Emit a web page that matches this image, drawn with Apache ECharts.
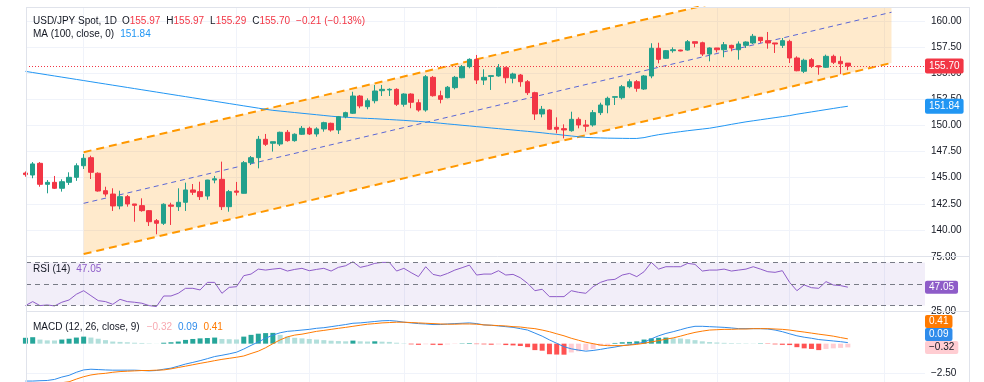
<!DOCTYPE html>
<html>
<head>
<meta charset="utf-8">
<script src="https://cdn.jsdelivr.net/npm/echarts@6.0.0/dist/echarts.min.js"></script>
<style>
html,body{margin:0;padding:0;background:#ffffff;}
#chart{width:984px;height:382px;}
</style>
</head>
<body>
<div id="chart"></div>
<script>
// ---------------- DATA ----------------
const opens = [145.45,145.26,146.38,144.37,144.56,143.99,144.56,145.04,146.15,146.92,
145.43,143.76,143.44,142.30,143.19,142.49,142.33,141.85,140.89,140.64,
142.39,142.23,142.65,143.83,143.67,143.25,144.78,144.85,142.23,143.73,
143.51,146.44,146.92,148.68,148.30,148.23,149.35,148.55,149.16,149.73,
149.19,149.67,150.21,149.57,150.84,151.17,152.82,151.80,152.37,153.33,
153.40,153.46,152.03,153.01,152.18,151.48,154.61,152.85,152.66,153.62,
154.57,155.63,156.33,154.35,154.70,154.74,155.53,154.52,154.83,154.19,
153.14,151.10,151.48,149.83,149.70,149.50,150.59,150.05,150.05,151.23,
151.96,152.70,152.66,153.71,154.19,153.49,154.74,157.39,156.43,157.16,
157.22,157.22,158.02,157.92,156.84,157.42,157.25,157.67,157.25,157.67,
157.90,158.44,158.12,157.90,157.67,158.05,156.46,155.19,156.30,155.72,
155.57,156.62,156.14,155.97];
const highs = [145.60,146.50,146.50,144.78,145.17,144.85,145.52,146.38,147.27,147.11,
145.52,144.14,143.99,143.76,143.35,142.49,143.03,141.91,141.05,142.55,
142.61,143.99,144.53,144.40,144.62,144.80,145.17,146.54,143.83,144.60,
146.60,147.08,149.00,149.19,148.45,149.41,149.57,149.25,149.95,149.89,
149.83,150.36,150.27,150.91,151.32,153.23,152.92,152.60,153.88,153.88,
153.56,153.56,153.08,153.08,152.50,154.83,154.74,153.33,153.78,154.74,
155.79,156.43,156.75,155.38,154.77,155.88,155.63,155.05,154.93,154.35,
153.23,151.87,151.55,150.78,150.11,151.32,150.78,150.53,151.48,152.18,
152.76,152.76,153.88,154.42,154.35,154.83,157.87,157.92,157.22,157.48,
157.25,158.18,158.02,158.02,157.48,157.42,157.99,157.73,158.05,158.05,
158.76,158.44,158.95,157.90,158.37,158.21,156.62,156.39,156.46,155.72,
156.78,156.78,156.62,155.97];
const lows = [145.10,144.95,144.14,143.51,143.92,143.67,144.31,144.70,145.84,144.88,
143.67,143.19,141.82,141.98,142.23,140.79,141.75,140.38,139.59,140.48,
140.48,141.82,141.82,143.35,142.87,142.90,144.47,141.91,141.75,143.30,
143.50,146.22,145.90,148.04,147.50,148.04,148.45,148.45,149.09,149.09,
148.93,149.41,149.41,149.19,150.69,151.10,151.65,151.55,152.12,152.82,
152.82,151.87,151.80,151.65,151.32,151.32,152.76,152.12,152.60,153.46,
154.52,155.47,153.97,153.88,153.40,154.67,154.04,154.04,153.71,152.92,
150.53,150.78,149.57,149.25,148.77,149.41,149.73,149.41,149.89,151.00,
151.17,151.96,152.50,153.56,153.23,153.40,154.52,155.95,156.36,156.97,
157.10,157.16,157.48,156.65,156.14,157.00,156.53,157.10,156.30,157.42,
157.80,157.90,157.35,156.94,157.42,155.98,155.19,155.02,155.50,154.86,
155.50,155.88,154.93,155.29];
const closes = [145.30,146.32,144.37,144.56,143.99,144.62,145.04,146.15,146.86,145.52,
143.73,143.44,142.30,143.19,142.49,142.36,141.85,140.79,140.64,142.46,
142.27,142.65,143.83,143.61,143.19,144.78,144.90,142.23,143.67,143.61,
146.44,146.92,148.68,148.20,148.45,149.35,148.55,149.16,149.73,149.19,
149.67,150.27,149.57,150.84,151.23,152.82,151.87,152.37,153.30,153.46,
153.46,152.03,153.01,152.22,151.48,154.67,152.85,152.50,153.66,154.61,
155.63,156.33,154.35,154.61,154.77,155.53,154.57,154.93,154.19,153.14,
151.10,151.55,149.64,149.64,149.57,150.59,150.05,149.93,151.23,151.96,
152.60,152.76,153.71,154.19,153.56,154.74,157.39,156.33,157.16,157.25,
157.13,158.02,157.87,156.84,157.42,157.25,157.73,157.42,157.80,157.99,
158.54,158.12,157.90,157.80,158.12,156.46,155.24,156.24,155.66,155.60,
156.62,156.05,155.91,155.70];
const ma100 = [155.18,155.07,154.96,154.85,154.74,154.63,154.52,154.41,154.30,154.19,
154.08,153.97,153.86,153.75,153.64,153.53,153.42,153.31,153.20,153.09,
152.98,152.87,152.76,152.65,152.54,152.43,152.32,152.21,152.10,151.99,
151.88,151.77,151.66,151.55,151.45,151.38,151.31,151.24,151.17,151.10,
151.03,150.96,150.89,150.83,150.79,150.75,150.71,150.68,150.65,150.61,
150.57,150.53,150.49,150.44,150.39,150.34,150.28,150.22,150.15,150.09,
150.02,149.96,149.89,149.83,149.76,149.70,149.63,149.57,149.50,149.44,
149.37,149.30,149.22,149.15,149.07,149.00,148.92,148.86,148.83,148.81,
148.79,148.78,148.77,148.76,148.76,148.84,148.99,149.12,149.22,149.32,
149.41,149.50,149.58,149.66,149.74,149.86,149.98,150.11,150.23,150.35,
150.45,150.55,150.65,150.75,150.85,150.95,151.08,151.19,151.30,151.41,
151.52,151.63,151.74,151.84];
const rsi14 = [30.0,33.7,30.0,30.6,29.7,33.1,35.2,40.5,43.8,39.2,
34.6,33.7,31.2,35.8,33.7,33.1,32.2,30.0,29.1,38.9,
38.9,41.4,46.0,46.0,44.5,51.5,51.5,41.4,46.9,47.5,
57.7,59.2,63.8,62.9,63.8,64.5,62.0,63.5,64.5,62.3,
63.5,64.5,62.0,65.4,66.9,70.6,65.4,66.9,69.1,70.0,
70.0,62.0,64.5,60.5,56.8,66.0,58.9,57.4,59.8,62.9,
65.1,67.5,58.3,59.2,59.2,62.3,58.3,58.9,55.8,50.6,
43.8,45.1,38.3,38.3,38.3,43.8,42.3,41.4,47.5,51.5,
53.7,54.3,58.3,59.8,56.8,61.4,70.0,63.8,66.0,66.0,
66.0,69.1,68.2,62.0,62.9,62.9,63.8,62.0,62.9,63.8,
66.0,63.8,61.4,60.8,62.3,51.5,43.8,49.1,46.6,46.0,
52.2,49.1,48.5,47.05];
const macdLine = [-3.19,-3.19,-3.16,-3.14,-3.05,-2.85,-2.70,-2.44,-2.24,-2.18,
-2.21,-2.24,-2.26,-2.26,-2.26,-2.26,-2.29,-2.32,-2.29,-2.18,
-2.09,-1.92,-1.74,-1.60,-1.45,-1.28,-1.10,-0.99,-0.87,-0.73,
-0.46,-0.15,0.15,0.46,0.73,0.93,1.05,1.10,1.16,1.22,
1.31,1.36,1.45,1.54,1.63,1.74,1.77,1.83,1.89,1.95,
1.97,1.92,1.83,1.77,1.71,1.68,1.63,1.63,1.68,1.71,
1.74,1.77,1.71,1.60,1.57,1.51,1.45,1.39,1.28,1.16,
0.90,0.64,0.32,0.03,-0.26,-0.44,-0.55,-0.64,-0.58,-0.49,
-0.38,-0.29,-0.17,-0.09,0.00,0.12,0.41,0.67,0.87,1.02,
1.19,1.36,1.48,1.48,1.45,1.42,1.39,1.34,1.28,1.28,
1.28,1.28,1.25,1.16,1.02,0.84,0.67,0.55,0.46,0.35,
0.29,0.23,0.17,0.09];
const signalLine = [-3.90,-3.74,-3.60,-3.50,-3.40,-3.33,-3.25,-3.02,-2.82,-2.67,
-2.58,-2.53,-2.44,-2.38,-2.35,-2.32,-2.29,-2.29,-2.26,-2.24,
-2.15,-2.03,-1.92,-1.80,-1.68,-1.57,-1.45,-1.34,-1.25,-1.16,
-1.05,-0.84,-0.64,-0.35,0.00,0.32,0.58,0.73,0.81,0.93,
1.05,1.13,1.22,1.31,1.39,1.48,1.57,1.66,1.71,1.77,
1.80,1.83,1.83,1.80,1.77,1.74,1.71,1.68,1.66,1.66,
1.68,1.68,1.66,1.60,1.57,1.54,1.51,1.45,1.42,1.34,
1.28,1.16,1.02,0.84,0.67,0.46,0.29,0.12,0.00,-0.12,
-0.17,-0.17,-0.17,-0.12,-0.06,0.03,0.15,0.26,0.38,0.49,
0.64,0.81,0.96,1.07,1.16,1.19,1.22,1.22,1.25,1.25,
1.28,1.28,1.28,1.25,1.22,1.16,1.07,0.99,0.90,0.81,
0.73,0.64,0.52,0.41];
const macdHist = [0.50,0.55,0.35,0.28,0.27,0.35,0.42,0.52,0.60,0.52,
0.42,0.30,0.18,0.15,0.12,0.08,0.06,0.03,0.01,0.08,
0.12,0.18,0.32,0.40,0.45,0.48,0.52,0.40,0.38,0.36,
0.60,0.75,0.85,0.90,0.92,0.75,0.60,0.50,0.45,0.40,
0.35,0.30,0.25,0.22,0.20,0.26,0.20,0.18,0.20,0.17,
0.15,0.08,0.03,-0.06,-0.10,-0.05,-0.10,-0.12,-0.06,-0.03,
0.03,0.05,-0.04,-0.06,-0.09,-0.06,-0.12,-0.15,-0.20,-0.30,
-0.55,-0.60,-0.90,-0.93,-0.94,-0.75,-0.65,-0.55,-0.45,-0.20,
-0.12,0.06,0.12,0.15,0.20,0.35,0.45,0.50,0.52,0.46,
0.44,0.38,0.30,0.20,0.14,0.10,0.07,0.05,0.04,0.03,
0.02,0.03,-0.03,-0.06,-0.10,-0.12,-0.30,-0.40,-0.45,-0.55,
-0.45,-0.40,-0.36,-0.32];
// channel drawing (bar index where it starts / ends, and prices)
const channelIdx = [8, 119];
const channelUpper = [147.44, 165.73];
const channelMid = [142.55, 160.84];
const channelLower = [137.70, 155.99];
// axis ticks
const priceTicks = [140, 142.5, 145, 147.5, 150, 152.5, 155, 157.5, 160];
const rsiTicks = [25, 75];
const rsiLevels = [70, 50, 30];
const macdTicks = [-2.5];
const timeGridIdx = [8, 29, 39, 52, 62, 73, 95, 105, 118];

// ---------------- STYLE ----------------
const FONT = '"Liberation Sans", Arial, sans-serif';
const UP = '#22A08C', DOWN = '#F23645';
const MA_C = '#2196F3', RSI_C = '#8E5CC8', MACD_C = '#2F8CEB', SIG_C = '#FF7A00';
const GRID_C = '#f0f3fa';
const X_MIN = 0.08, X_MAX = 123.6;
const fmt = v => (v < 0 ? '\u2212' : '') + Math.abs(v).toFixed(2);

const n = closes.length, last = n - 1;
const candleData = closes.map((c, i) => [i, opens[i], c, lows[i], highs[i]]);
const pairs = arr => arr.map((v, i) => [i, v]);
const chPairs = arr => channelIdx.map((x, i) => [x, arr[i]]);

const grids = [
  {left: 26, right: 59, top: 7, height: 249},
  {left: 26, right: 59, top: 257, height: 54},
  {left: 26, right: 59, top: 312, height: 70}
];
const xAxes = [0, 1, 2].map(g => ({
  type: 'value', gridIndex: g, min: X_MIN, max: X_MAX,
  axisLine: {show: false}, axisLabel: {show: false},
  axisTick: {show: false, customValues: timeGridIdx},
  splitLine: {show: true, lineStyle: {color: GRID_C, width: 1}}
}));
const yCommon = {
  type: 'value', position: 'right', axisLine: {show: false},
  axisLabel: {color: '#131722', fontSize: 10, fontFamily: FONT, margin: 6, formatter: fmt}
};
const yAxes = [
  Object.assign({}, yCommon, {gridIndex: 0, min: 137.51, max: 161.34,
    axisTick: {show: false, customValues: priceTicks},
    axisLabel: Object.assign({}, yCommon.axisLabel, {customValues: priceTicks}),
    splitLine: {show: true, lineStyle: {color: GRID_C}}}),
  Object.assign({}, yCommon, {gridIndex: 1, min: 25, max: 75,
    axisTick: {show: false, customValues: rsiTicks},
    axisLabel: Object.assign({}, yCommon.axisLabel, {customValues: rsiTicks}),
    splitLine: {show: false}}),
  Object.assign({}, yCommon, {gridIndex: 2, min: -3.27, max: 2.70,
    axisTick: {show: false, customValues: macdTicks},
    axisLabel: Object.assign({}, yCommon.axisLabel, {customValues: macdTicks}),
    splitLine: {show: true, lineStyle: {color: GRID_C}}})
];

function lineSeries(data, color, width, type, ax, z) {
  return {type: 'line', xAxisIndex: ax, yAxisIndex: ax, data: data, showSymbol: false, symbol: 'none',
    lineStyle: {color: color, width: width, type: type}, silent: true, z: z, clip: true};
}

const histColor = p => {
  const i = p.dataIndex, h = macdHist[i], prev = i > 0 ? macdHist[i - 1] : null;
  if (h >= 0) return (prev === null || h > prev) ? '#26A69A' : '#B2DFDB';
  return (prev === null || h < prev) ? '#FF5252' : '#FFCDD2';
};

const series = [
  {type: 'custom', xAxisIndex: 0, yAxisIndex: 0, clip: true, z: 1, silent: true,
    data: [[channelIdx[0], channelLower[0]]],
    renderItem: (params, api) => ({
      type: 'polygon',
      shape: {points: [
        api.coord([channelIdx[0], channelUpper[0]]),
        api.coord([channelIdx[1], channelUpper[1]]),
        api.coord([channelIdx[1], channelLower[1]]),
        api.coord([channelIdx[0], channelLower[0]])]},
      style: {fill: 'rgba(255,152,0,0.2)'}
    })},
  lineSeries(chPairs(channelUpper), '#FF9800', 2, [8, 5], 0, 2),
  lineSeries(chPairs(channelLower), '#FF9800', 2, [8, 5], 0, 2),
  lineSeries(chPairs(channelMid), '#5B67D6', 1, [5, 4], 0, 2),
  lineSeries(pairs(ma100), MA_C, 1, 'solid', 0, 3),
  {type: 'candlestick', xAxisIndex: 0, yAxisIndex: 0, data: candleData, barWidth: 5, z: 5, silent: true,
    itemStyle: {color: UP, color0: DOWN, borderColor: UP, borderColor0: DOWN, borderWidth: 1},
    markLine: {silent: true, symbol: ['none', 'none'], animation: false,
      data: [{yAxis: closes[last]}],
      lineStyle: {color: DOWN, width: 1, type: [1, 2]}, label: {show: false}}},
  Object.assign(lineSeries(pairs(rsi14), RSI_C, 1, 'solid', 1, 3), {
    markArea: {silent: true, itemStyle: {color: 'rgba(126,87,194,0.1)'},
      data: [[{yAxis: rsiLevels[2]}, {yAxis: rsiLevels[0]}]]},
    markLine: {silent: true, symbol: ['none', 'none'], animation: false,
      lineStyle: {color: '#787B86', width: 1, type: [5, 4]}, label: {show: false},
      data: rsiLevels.map(v => ({yAxis: v}))}
  }),
  {type: 'bar', xAxisIndex: 2, yAxisIndex: 2, data: pairs(macdHist), barWidth: 5, silent: true, z: 2,
    itemStyle: {color: histColor}},
  lineSeries(pairs(macdLine), MACD_C, 1, 'solid', 2, 3),
  lineSeries(pairs(signalLine), SIG_C, 1, 'solid', 2, 3)
];

const F10 = '10px ' + FONT;
// legend row built as rich text: [text, colour, left gap]
function legend(x, y, parts) {
  const rich = {};
  let text = '';
  parts.forEach((p, i) => {
    rich['p' + i] = {fill: p[1], font: F10, padding: [0, 0, 0, p[2] || 0]};
    text += '{p' + i + '|' + p[0] + '}';
  });
  return {type: 'text', x: x, y: y, silent: true, z: 20,
    style: {text: text, rich: rich, font: F10, verticalAlign: 'middle'}};
}

const chg = closes[last] - closes[last - 1];
const chgPct = chg / closes[last - 1] * 100;
const DARK = '#131722';

const baseGraphics = [
  {type: 'line', silent: true, z: 10, shape: {x1: 26, y1: 7.5, x2: 969, y2: 7.5}, style: {stroke: '#e0e3eb', lineWidth: 1}},
  {type: 'line', silent: true, z: 10, shape: {x1: 26.5, y1: 7, x2: 26.5, y2: 382}, style: {stroke: '#e0e3eb', lineWidth: 1}},
  {type: 'line', silent: true, z: 10, shape: {x1: 969.5, y1: 7, x2: 969.5, y2: 382}, style: {stroke: '#e0e3eb', lineWidth: 1}},
  {type: 'line', silent: true, z: 10, shape: {x1: 26, y1: 256.5, x2: 969, y2: 256.5}, style: {stroke: '#e0e3eb', lineWidth: 1}},
  {type: 'line', silent: true, z: 10, shape: {x1: 26, y1: 311.5, x2: 969, y2: 311.5}, style: {stroke: '#e0e3eb', lineWidth: 1}},
  legend(33, 21, [
    ['USD/JPY Spot, 1D', DARK],
    ['O', DARK, 5], [opens[last].toFixed(2), DOWN],
    ['H', DARK, 6], [highs[last].toFixed(2), DOWN],
    ['L', DARK, 6], [lows[last].toFixed(2), DOWN],
    ['C', DARK, 6], [closes[last].toFixed(2), DOWN],
    [fmt(chg) + ' (' + fmt(chgPct) + '%)', DOWN, 6]
  ]),
  legend(33, 34.5, [['MA (100, close, 0)', DARK], [ma100[last].toFixed(2), MA_C, 6]]),
  legend(33, 269, [['RSI (14)', DARK], [rsi14[last].toFixed(2), RSI_C, 6]]),
  legend(33, 327, [['MACD (12, 26, close, 9)', DARK],
    [fmt(macdHist[last]), '#F7A9B1', 7], [fmt(macdLine[last]), MACD_C, 6], [fmt(signalLine[last]), SIG_C, 6]])
];

const chart = echarts.init(document.getElementById('chart'), null, {renderer: 'canvas'});
chart.setOption({
  animation: false, backgroundColor: '#ffffff',
  textStyle: {fontFamily: FONT},
  grid: grids, xAxis: xAxes, yAxis: yAxes, series: series,
  graphic: baseGraphics
});

// value boxes on the price scales, positioned through the library's own scales
function box(y, text, bg, fg, pad) {
  return {type: 'text', x: 925, y: y, silent: true, z: 30,
    style: {text: text, fill: fg, font: F10, verticalAlign: 'middle',
      backgroundColor: bg, padding: pad, borderRadius: 2}};
}
const yPix = (axis, v) => chart.convertToPixel({xAxisIndex: axis, yAxisIndex: axis}, [X_MIN, v])[1];
const boxes = [
  box(yPix(0, closes[last]), closes[last].toFixed(2), DOWN, '#ffffff', [3, 4, 2, 4]),
  box(yPix(0, ma100[last]), ma100[last].toFixed(2), MA_C, '#ffffff', [3, 4, 2, 4]),
  box(yPix(1, rsi14[last]), rsi14[last].toFixed(2), RSI_C, '#ffffff', [2, 4, 1, 4])
];
// MACD boxes: stack upward when overlapping (like the reference)
const macdVals = [
  {v: macdHist[last], bg: '#FFCDD2', fg: DARK},
  {v: macdLine[last], bg: MACD_C, fg: '#ffffff'},
  {v: signalLine[last], bg: SIG_C, fg: '#ffffff'}
].sort((a, b) => a.v - b.v);
let prevY = Infinity;
macdVals.forEach(m => {
  let y = yPix(2, m.v);
  if (y > prevY - 13) y = prevY - 13;
  prevY = y;
  boxes.push(box(y, fmt(m.v), m.bg, m.fg, [2, 4, 1, 4]));
});
chart.setOption({graphic: baseGraphics.concat(boxes)});
</script>
</body>
</html>
